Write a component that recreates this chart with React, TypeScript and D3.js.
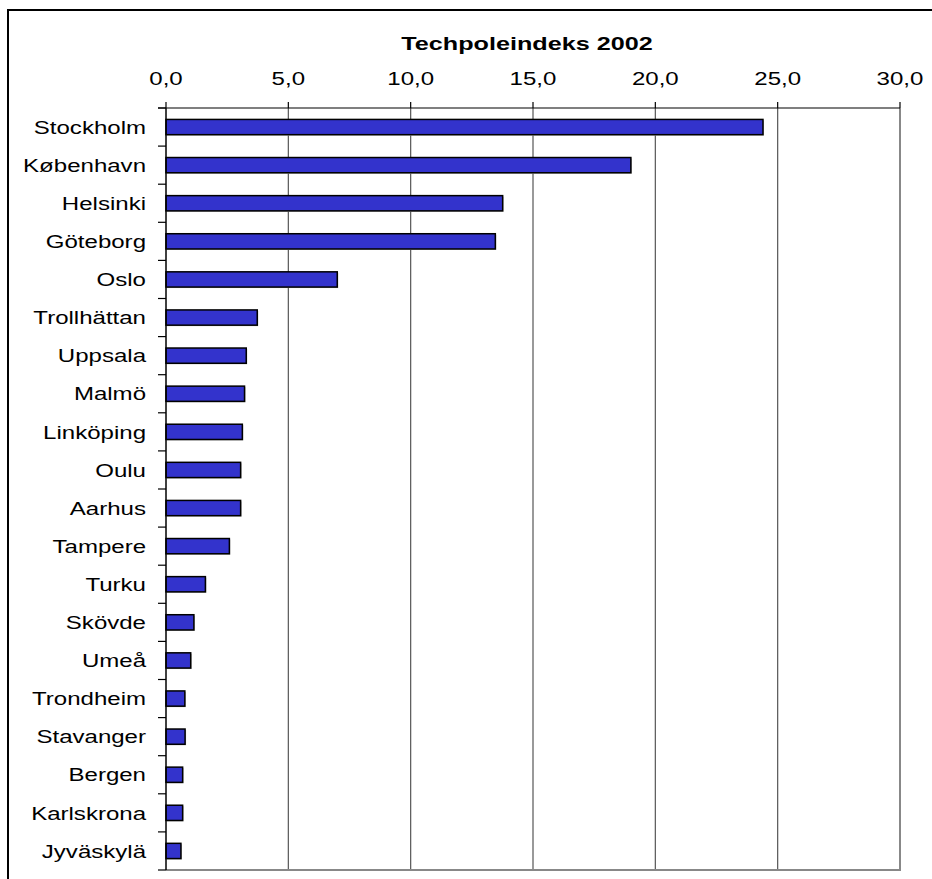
import React from "react";
import * as d3 from "d3";

const categories = [
  "Stockholm", "København", "Helsinki", "Göteborg", "Oslo", "Trollhättan",
  "Uppsala", "Malmö", "Linköping", "Oulu", "Aarhus", "Tampere", "Turku",
  "Skövde", "Umeå", "Trondheim", "Stavanger", "Bergen", "Karlskrona", "Jyväskylä",
];
const values = [
  24.4, 19.0, 13.76, 13.46, 7.0, 3.73, 3.28, 3.21, 3.12, 3.05, 3.05, 2.59,
  1.61, 1.14, 1.01, 0.77, 0.78, 0.68, 0.68, 0.61,
];
const xTicks = [0, 5, 10, 15, 20, 25, 30];
const title = "Techpoleindeks 2002";

export default function App() {
  const W = 932, H = 879;
  const left = 166, right = 900, top = 108, bottom = 870;
  const x = d3.scaleLinear().domain([0, 30]).range([left, right]);
  const y = d3.scaleBand<string>().domain(categories).range([top, bottom]).paddingInner(0.6).paddingOuter(0.3);
  const step = y.step();
  const fmt = (v: number) => v.toFixed(1).replace(".", ",");
  const font = "'Liberation Sans', Arial, sans-serif";
  const boundaries = d3.range(categories.length + 1).map((i) => top + i * step);
  const sx = 1.3;
  const fs = 18.5;

  return (
    <svg width={W} height={H} style={{ position: "absolute", left: 0, top: 0, background: "#fff" }} fontFamily={font}>
      <rect x={0} y={0} width={W} height={H} fill="#fff" />
      {/* outer frame */}
      <rect x={8} y={10} width={1000} height={1000} fill="none" stroke="#000" strokeWidth={2} />
      {/* title */}
      <text transform={`translate(${527},${50}) scale(1.4,1)`} textAnchor="middle" fontSize={18} fontWeight="bold">{title}</text>
      {/* gridlines */}
      {xTicks.filter((t) => t > 0 && t < 30).map((t) => (
        <line key={"g" + t} x1={x(t)} x2={x(t)} y1={top} y2={bottom} stroke="#555" strokeWidth={1.2} />
      ))}
      {/* plot border right & bottom */}
      <line x1={right} x2={right} y1={top} y2={bottom} stroke="#888" strokeWidth={2} />
      <line x1={left} x2={right + 1} y1={bottom} y2={bottom} stroke="#888" strokeWidth={2} />
      {/* bars */}
      {categories.map((c, i) => (
        <g key={c}>
          <rect x={x(0) + 1} y={(y(c) as number) + 1} width={x(values[i]) - x(0)} height={y.bandwidth()} fill="#bbb" />
          <rect x={x(0)} y={y(c)} width={x(values[i]) - x(0)} height={y.bandwidth()} fill="#3333CC" stroke="#000" strokeWidth={1.5} />
        </g>
      ))}
      {/* top axis */}
      <line x1={left - 8} x2={right} y1={top} y2={top} stroke="#000" strokeWidth={1.2} />
      {xTicks.map((t) => (
        <g key={"t" + t}>
          <line x1={x(t)} x2={x(t)} y1={top - 6} y2={top} stroke="#000" strokeWidth={1.2} />
          <text transform={`translate(${x(t)},${85}) scale(${sx},1)`} textAnchor="middle" fontSize={fs}>{fmt(t)}</text>
        </g>
      ))}
      {/* left axis */}
      <line x1={left} x2={left} y1={top} y2={bottom} stroke="#000" strokeWidth={1.5} />
      {boundaries.map((b, i) => (
        <line key={"b" + i} x1={left - 8} x2={left} y1={b} y2={b} stroke="#000" strokeWidth={1.2} />
      ))}
      {categories.map((c) => (
        <text
          key={"l" + c}
          transform={`translate(${146},${(y(c) as number) + y.bandwidth() / 2}) scale(${sx},1)`}
          dy="0.36em"
          textAnchor="end"
          fontSize={fs}
        >
          {c}
        </text>
      ))}
    </svg>
  );
}
